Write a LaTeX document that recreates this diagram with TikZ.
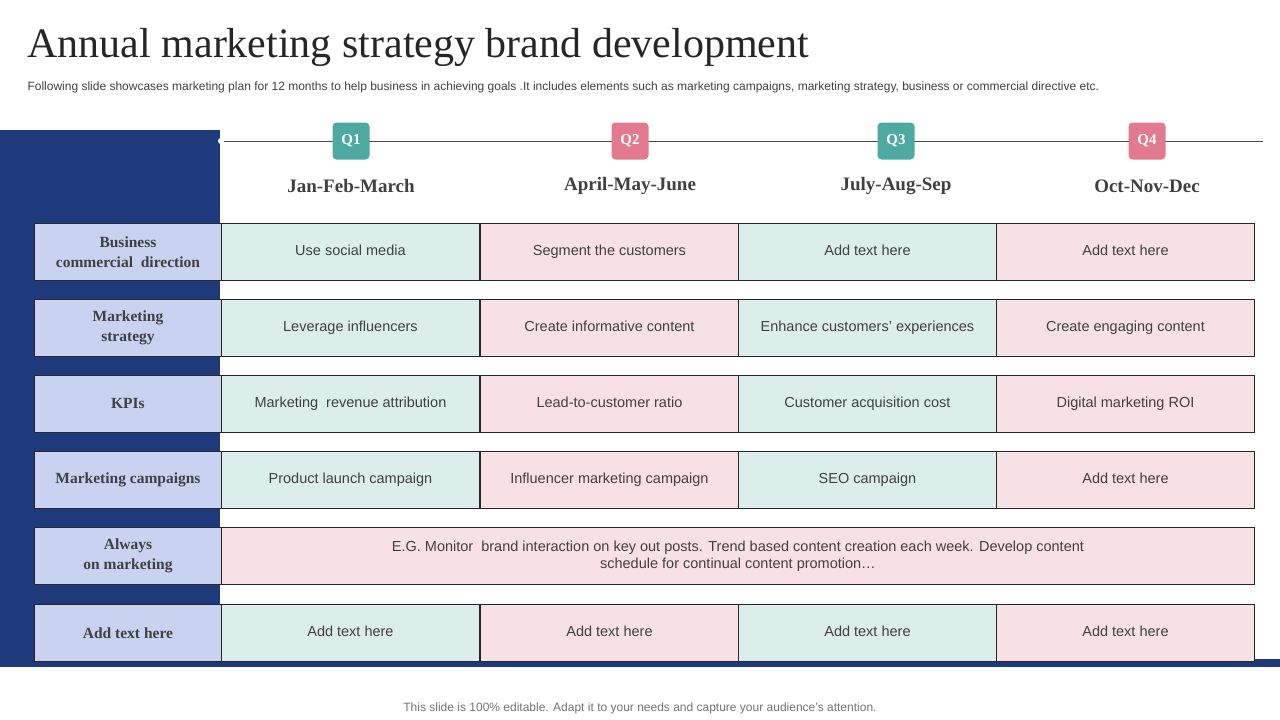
\documentclass[tikz,border=0pt]{standalone}
\usepackage{fontspec}
\setmainfont{Liberation Serif}
\setsansfont{Liberation Sans}
\definecolor{navy}{HTML}{1F3A7A}
\definecolor{lab}{HTML}{C9D3F1}
\definecolor{tl}{HTML}{DCEEEC}
\definecolor{pk}{HTML}{F8E1E5}
\definecolor{qt}{HTML}{4DAAA0}
\definecolor{qp}{HTML}{E07A8C}
\definecolor{txt}{HTML}{404040}
\begin{document}
\begin{tikzpicture}[x=1pt,y=-1pt,
  cell/.style={draw=black!85,line width=0.9pt,minimum height=57pt,inner sep=0pt,anchor=north west,text=txt,font=\sffamily\fontsize{14.5}{17}\selectfont,align=center},
  one/.style={text height=10.5pt,text depth=3pt},
  labc/.style={cell,fill=lab,minimum width=187pt,font=\bfseries\fontsize{15.5}{20}\selectfont},
  tc/.style={cell,one,fill=tl,minimum width=258pt},
  pc/.style={cell,one,fill=pk,minimum width=258pt},
  qbox/.style={rounded corners=4pt,minimum width=37pt,minimum height=37pt,text=white,font=\bfseries\fontsize{15}{15}\selectfont},
  hdr/.style={font=\bfseries\fontsize{19}{19}\selectfont,text=txt}]
\useasboundingbox (0,0) rectangle (1280,720);
\fill[white] (0,0) rectangle (1280,720);
\fill[navy] (0,130) rectangle (220,667);
\fill[navy] (220,659) rectangle (1280,667);
\node[anchor=west,font=\fontsize{42}{42}\selectfont,text=black!85] (title) at (24,47) {Annual marketing strategy brand development};
\node[anchor=west,font=\sffamily\fontsize{12}{14}\selectfont,text=txt] (sub) at (24,87) {Following slide showcases marketing plan for 12 months to help business in achieving goals .It includes elements such as marketing campaigns, marketing strategy, business or commercial directive etc.};
\coordinate (ls) at (221,141); \coordinate (le) at (1263,141);
\draw[black!70,line width=0.8pt] (ls) -- (le);
\fill[white] (ls) circle (3pt);
\node[qbox,fill=qt] (q1) at (351,141) {Q1};
\node[qbox,fill=qp] (q2) at (630,141) {Q2};
\node[qbox,fill=qt] (q3) at (896,141) {Q3};
\node[qbox,fill=qp] (q4) at (1147,141) {Q4};
\node[hdr] (h1) at (351,186) {Jan-Feb-March};
\node[hdr] (h2) at (630,186) {April-May-June};
\node[hdr] (h3) at (896,186) {July-Aug-Sep};
\node[hdr] (h4) at (1147,186) {Oct-Nov-Dec};
\node[labc] (l1) at (34,223) {Business\\commercial\ \ direction};
\node[tc] (a1) at (221,223) {Use social media};
\node[pc] (b1) at (480,223) {Segment the customers};
\node[tc] (c1) at (738,223) {Add text here};
\node[pc] (d1) at (996,223) {Add text here};
\node[labc] (l2) at (34,299) {Marketing\\strategy};
\node[tc] (a2) at (221,299) {Leverage influencers};
\node[pc] (b2) at (480,299) {Create informative content};
\node[tc] (c2) at (738,299) {Enhance customers' experiences};
\node[pc] (d2) at (996,299) {Create engaging content};
\node[labc] (l3) at (34,375) {KPIs};
\node[tc] (a3) at (221,375) {Marketing\ \ revenue attribution};
\node[pc] (b3) at (480,375) {Lead-to-customer ratio};
\node[tc] (c3) at (738,375) {Customer acquisition cost};
\node[pc] (d3) at (996,375) {Digital marketing ROI};
\node[labc] (l4) at (34,451) {Marketing campaigns};
\node[tc] (a4) at (221,451) {Product launch campaign};
\node[pc] (b4) at (480,451) {Influencer marketing campaign};
\node[tc] (c4) at (738,451) {SEO campaign};
\node[pc] (d4) at (996,451) {Add text here};
\node[labc] (l5) at (34,527) {Always\\on marketing};
\node[cell,fill=pk,minimum width=1033pt] (a5) at (221,527) {E.G. Monitor\ \ brand interaction on key out posts. Trend based content creation each week. Develop content\\schedule for continual content promotion\dots};
\node[labc] (l6) at (34,604) {Add text here};
\node[tc] (a6) at (221,604) {Add text here};
\node[pc] (b6) at (480,604) {Add text here};
\node[tc] (c6) at (738,604) {Add text here};
\node[pc] (d6) at (996,604) {Add text here};
\node[font=\sffamily\fontsize{12}{14}\selectfont,text=black!55] (foot) at (640,708) {This slide is 100\% editable. Adapt it to your needs and capture your audience's attention.};
\end{tikzpicture}
\end{document}
